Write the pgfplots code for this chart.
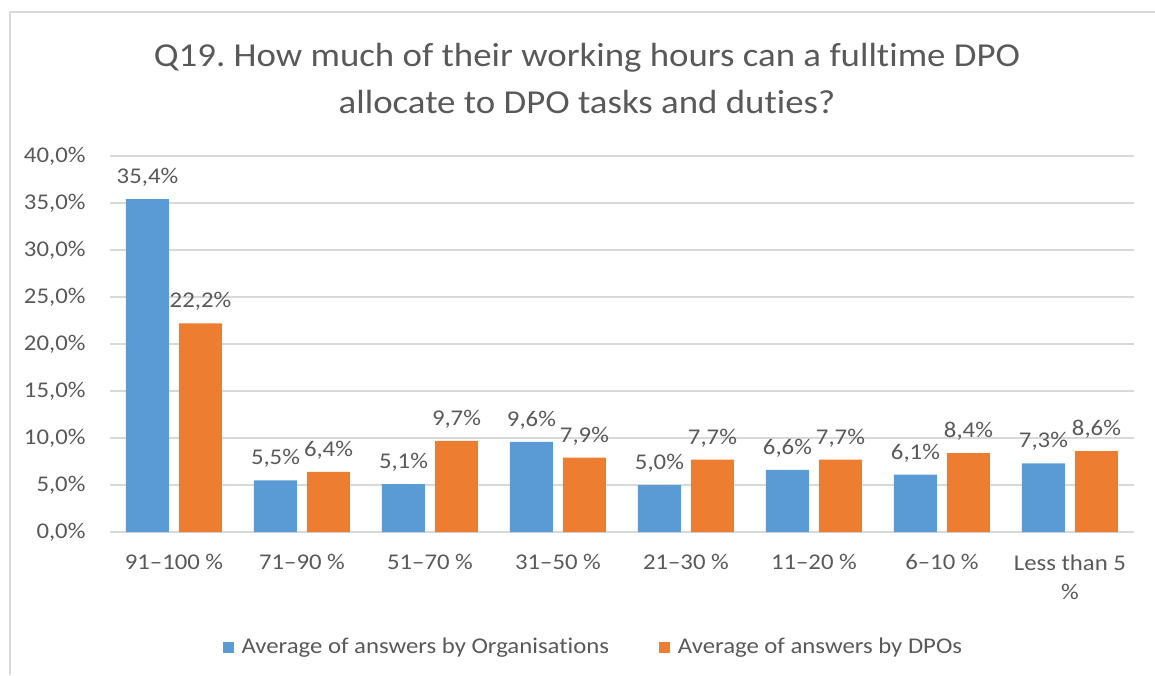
\documentclass[border=0pt]{standalone}
\usepackage{pgfplots}
\pgfplotsset{compat=1.18}
\usepackage{fontspec}
\setmainfont{Carlito}[FakeStretch=1.1, Ligatures={TeX,NoCommon}]
\definecolor{orgblue}{HTML}{5B9BD5}
\definecolor{dpoorange}{HTML}{ED7D31}
\definecolor{txt}{HTML}{595959}
\definecolor{gridc}{HTML}{D9D9D9}

\begin{document}
\begin{tikzpicture}[x=1pt,y=1pt]
\path[use as bounding box] (0,0) rectangle (1155,675);
\draw[gridc, line width=2pt] (10,0) -- (10,663) -- (1155,663);
\node[txt, align=center, font=\fontsize{33.5}{47}\selectfont] at (587,597)
  {Q19.\ How much of their working hours can a fulltime DPO\\allocate to DPO tasks and duties?};
\begin{axis}[
  at={(110pt,143pt)}, anchor=south west,
  scale only axis, width=1024pt, height=376pt,
  ybar=10pt, bar width=43pt,
  xmin=-0.5, xmax=7.5, ymin=0, ymax=40,
  ytick={0,5,...,40},
  xtick={0,...,7},
  xticklabels={91--100 \%, 71--90 \%, 51--70 \%, 31--50 \%, 21--30 \%, 11--20 \%, 6--10 \%, {Less than 5\\\%}},
  axis line style={draw=none},
  major tick length=0pt,
  ymajorgrids, grid style={gridc, line width=1.5pt},
  /pgf/number format/assume math mode=true,
  yticklabel={\pgfmathprintnumber[fixed,fixed zerofill,precision=1,use comma]{\tick}\%},
  yticklabel style={txt, font=\fontsize{22.5}{26}\selectfont, xshift=-21pt},
  xticklabel style={txt, font=\fontsize{22.5}{29}\selectfont, align=center, yshift=-19pt},
  nodes near coords={\pgfmathprintnumber[fixed,fixed zerofill,precision=1,use comma]{\pgfplotspointmeta}\%},
  nodes near coords style={txt, font=\fontsize{22.5}{26}\selectfont, anchor=south, yshift=9pt},
  legend columns=2,
  legend style={at={(0.472,-0.305)}, anchor=center, draw=none, fill=none,
    font=\fontsize{22.5}{26}\selectfont, text=txt,
    /tikz/every odd column/.append style={column sep=6pt},
    /tikz/every even column/.append style={column sep=48pt}},
  legend image code/.code={\fill[#1, draw=none] (0pt,-6pt) rectangle (11pt,5pt);},
]
\addplot[fill=orgblue, draw=none] coordinates {(0,35.4) (1,5.5) (2,5.1) (3,9.6) (4,5.0) (5,6.6) (6,6.1) (7,7.3)};
\addplot[fill=dpoorange, draw=none] coordinates {(0,22.2) (1,6.4) (2,9.7) (3,7.9) (4,7.7) (5,7.7) (6,8.4) (7,8.6)};
\legend{Average of answers by Organisations, Average of answers by DPOs}
\end{axis}
\end{tikzpicture}
\end{document}
